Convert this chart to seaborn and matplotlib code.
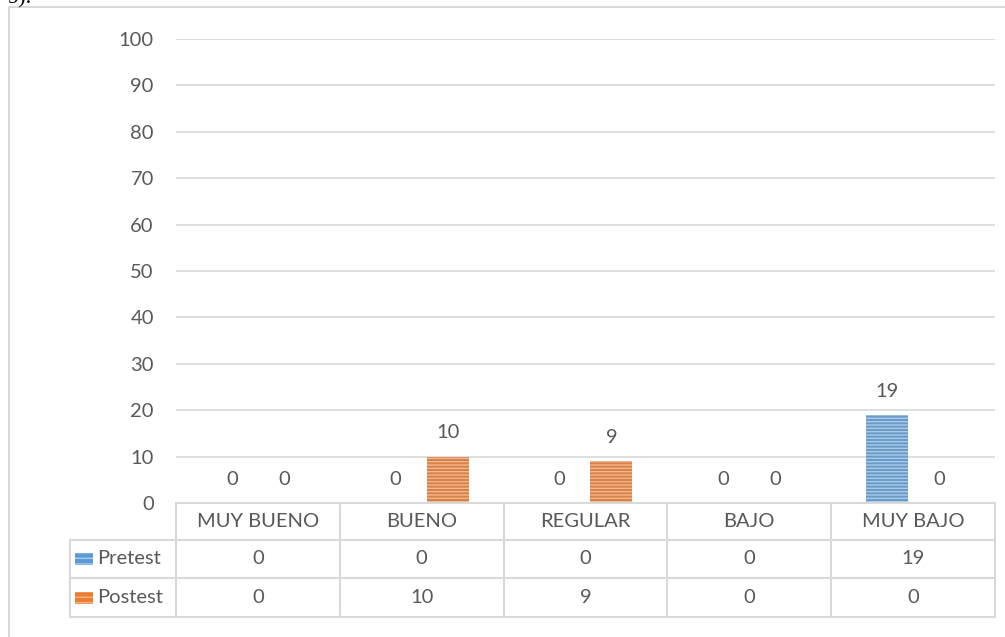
import pandas as pd
import matplotlib.pyplot as plt
import seaborn as sns
from matplotlib.patches import Rectangle
from matplotlib.lines import Line2D

categories = ["MUY BUENO", "BUENO", "REGULAR", "BAJO", "MUY BAJO"]
pretest = [0, 0, 0, 0, 19]
postest = [0, 10, 9, 0, 0]
series = ["Pretest", "Postest"]
yticks = list(range(0, 101, 10))

colors = {"Pretest": "#5B9BD5", "Postest": "#ED7D31"}
stripes = {"Pretest": "#A9CBEA", "Postest": "#F6B58C"}
grey = "#595959"
line_c = "#D9D9D9"
fs = 14.5

df = pd.DataFrame({
    "cat": categories * 2,
    "serie": ["Pretest"] * 5 + ["Postest"] * 5,
    "val": pretest + postest,
})

sns.set_style("white")
plt.rcParams['font.family'] = ['Lato', 'DejaVu Sans']
plt.rcParams['hatch.linewidth'] = 1.0

W, H = 1005, 637
fig = plt.figure(figsize=(W / 100, H / 100), dpi=100)

def fx(x):
    return x / W

def fy(y):
    return 1 - y / H

x0, x1, ytop, ybot = 176, 995, 39, 503
ax = fig.add_axes([fx(x0), fy(ybot), fx(x1 - x0), (ybot - ytop) / H])

sns.barplot(data=df, x="cat", y="val", hue="serie", order=categories,
            hue_order=series, palette=colors, width=0.634, gap=0.19,
            legend=False, ax=ax)

for cont, s in zip(ax.containers, series):
    for bar in cont:
        bar.set_hatch("-----")
        bar.set_edgecolor(stripes[s])
        bar.set_linewidth(0)
    labels = [str(int(v)) for v in cont.datavalues]
    ax.bar_label(cont, labels=labels, padding=11, fontsize=fs, color=grey)

ax.set_ylim(0, 100)
ax.set_xlim(-0.5, 4.5)
ax.set_yticks(yticks)
ax.set_yticklabels([str(t) for t in yticks], fontsize=fs, color=grey)
ax.tick_params(axis="y", length=0, pad=16)
ax.set_xticks([])
ax.set_xlabel("")
ax.set_ylabel("")
ax.grid(axis="y", color=line_c, linewidth=1.2)
ax.set_axisbelow(True)
for sp in ax.spines.values():
    sp.set_visible(False)

# outer chart frame
fig.add_artist(Rectangle((fx(9), fy(660)), fx(1100), (660 - 7) / H,
                         transform=fig.transFigure, fill=False,
                         edgecolor=line_c, linewidth=1.5))

# data table
col_w = (x1 - x0) / 5
rows_y = [503, 540, 578, 617]
lw = 1.5

def hline(xa, xb, y):
    fig.add_artist(Line2D([fx(xa), fx(xb)], [fy(y), fy(y)],
                          transform=fig.transFigure, color=line_c, linewidth=lw))

def vline(x, ya, yb):
    fig.add_artist(Line2D([fx(x), fx(x)], [fy(ya), fy(yb)],
                          transform=fig.transFigure, color=line_c, linewidth=lw))

hline(x0, x1, rows_y[0])
hline(70, x1, rows_y[1])
hline(70, x1, rows_y[2])
hline(70, x1, rows_y[3])
for i in range(6):
    vline(x0 + i * col_w, rows_y[0], rows_y[3])
vline(70, rows_y[1], rows_y[3])

for i, c in enumerate(categories):
    cx = x0 + (i + 0.5) * col_w
    fig.text(fx(cx), fy((rows_y[0] + rows_y[1]) / 2), c, ha="center",
             va="center", fontsize=fs, color=grey)
    for r, vals in enumerate([pretest, postest]):
        fig.text(fx(cx), fy((rows_y[r + 1] + rows_y[r + 2]) / 2),
                 str(vals[i]), ha="center", va="center", fontsize=fs, color=grey)

for r, s in enumerate(series):
    cy = (rows_y[r + 1] + rows_y[r + 2]) / 2
    fig.add_artist(Rectangle((fx(75), fy(cy + 6)), fx(18), 12 / H,
                             transform=fig.transFigure, facecolor=colors[s],
                             edgecolor=stripes[s], linewidth=0, hatch="---"))
    fig.text(fx(97), fy(cy), s, ha="left", va="center", fontsize=fs, color=grey)

# text cut off at the top of the page
fig.text(fx(32), fy(3), "9).", ha="right", va="baseline", fontsize=16,
         color="black", family="Liberation Serif")

fig.savefig("out.png", dpi=100)
